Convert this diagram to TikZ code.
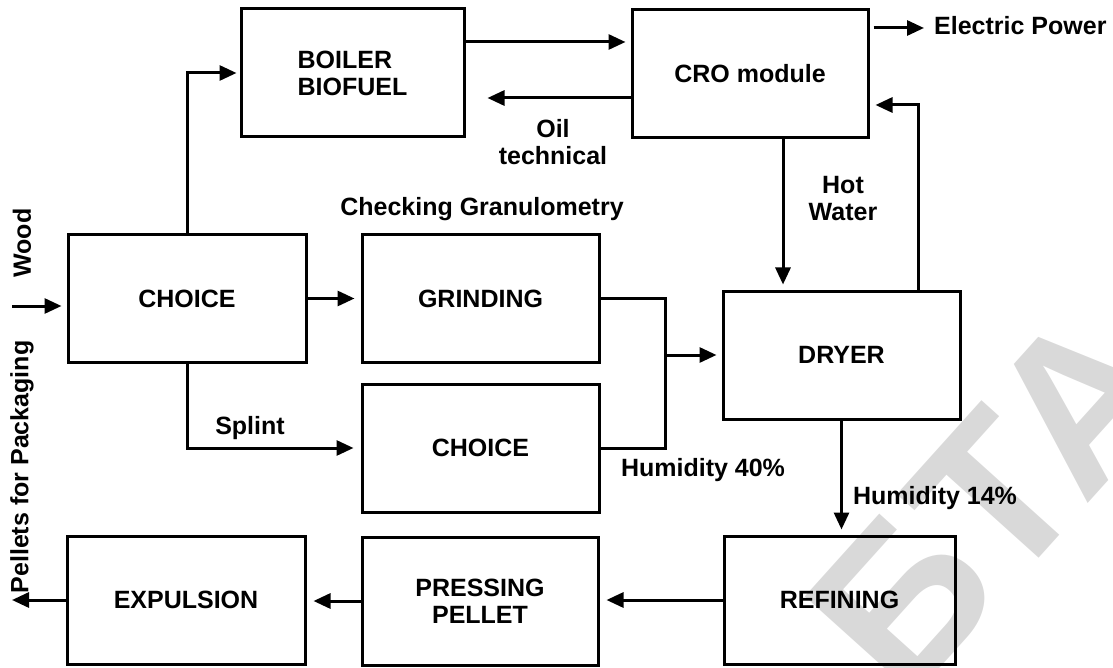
\documentclass[tikz,border=0pt]{standalone}
\usepackage{fontspec}
\setmainfont{Liberation Sans}
\usetikzlibrary{arrows.meta}
\usetikzlibrary{positioning}

\begin{document}
\begin{tikzpicture}[x=1pt,y=-1pt,
  every node/.style={font=\fontsize{25}{27}\selectfont\bfseries},
  block/.style={draw,line width=3pt,minimum width=#1,minimum height=128pt,inner sep=0pt},
  txt/.style={inner sep=2pt},
  line/.style={line width=3pt},
  arr/.style={line width=3pt,-{Triangle[length=17pt,width=15pt]},shorten >=#1},
  arr/.default=0pt,
  stamp/.style={text=black!15,font=\fontsize{215}{215}\selectfont\bfseries,rotate=48}]
\useasboundingbox (0,0) rectangle (1113,668);

% watermark
\begin{scope}
\clip (0,0) rectangle (1113,668);
\node[stamp] (wm) at (992,500) {БТА};
\end{scope}

% boxes
\node[block=223pt,align=left] (boiler) at (352.5,73) {BOILER\\BIOFUEL};
\node[block=236pt] (cro) at (750,74) {CRO module};
\node[block=238pt] (choice) at (187,298.5) {CHOICE};
\node[block=237pt] (grinding) at (480.5,298.5) {GRINDING};
\node[block=237pt] (sorting) at (480.5,448) {CHOICE};
\node[block=237pt] (dryer) at (841.5,355) {DRYER};
\node[block=231pt] (refining) at (839.5,600) {REFINING};
\node[block=236pt,align=center] (pressing) at (480,601) {PRESSING\\PELLET};
\node[block=238pt] (expulsion) at (186,600) {EXPULSION};

% labels
\node[txt,anchor=west] (power) at (932,26) {Electric Power};
\node[txt,align=center] (oil) at (553,142) {Oil\\technical};
\node[txt,align=center] (hot) at (843,199) {Hot\\Water};
\node[txt] (check) at (482,209) {Checking Granulometry};
\node[txt] (splint) at (250,428) {Splint};
\node[txt] (h40) at (703,470) {Humidity 40\%};
\node[txt] (h14) at (935,498) {Humidity 14\%};
\node[txt,rotate=90] (woodlbl) at (22,243) {Wood};
\node[txt,rotate=90] (pellets) at (22,467) {Pellets for Packaging};

% flows
\coordinate (wood) at (12,306);
\coordinate (pack) at (12,600);
\coordinate (join) at (665,355);
\draw[arr=5pt] (wood) -- (wood -| choice.west);
\draw[arr=3pt] (choice.north) |- (boiler.west);
\draw[arr=5pt] ([yshift=31pt]boiler.east) -- ([yshift=31pt]boiler.east -| cro.west);
\draw[arr=22pt] ([yshift=-24pt]cro.west) -- ([yshift=-24pt]cro.west -| boiler.east);
\draw[arr=12pt] ([yshift=46pt,xshift=4pt]cro.east) -- ([yshift=46pt,xshift=4pt]cro.east -| power.west);
\draw[arr=5pt] ([xshift=33pt]cro.south) -- ([xshift=33pt]cro.south |- dryer.north);
\draw[arr=6pt] ([xshift=77pt]dryer.north) |- ([yshift=-31pt]cro.east);
\draw[arr=6pt] (choice.east) -- (grinding.west);
\draw[arr=7pt] (choice.south) |- (sorting.west);
\draw[line] (grinding.east) -| (join) |- (sorting.east);
\draw[arr=5pt] (join) -- (join -| dryer.west);
\draw[arr=5pt] (dryer.south) -- (dryer.south |- refining.north);
\draw[arr=7pt] (refining.west) -- (refining.west -| pressing.east);
\draw[arr=7pt] (pressing.west) -- (pressing.west -| expulsion.east);
\draw[arr] (expulsion.west) -- (pack);
\end{tikzpicture}
\end{document}
